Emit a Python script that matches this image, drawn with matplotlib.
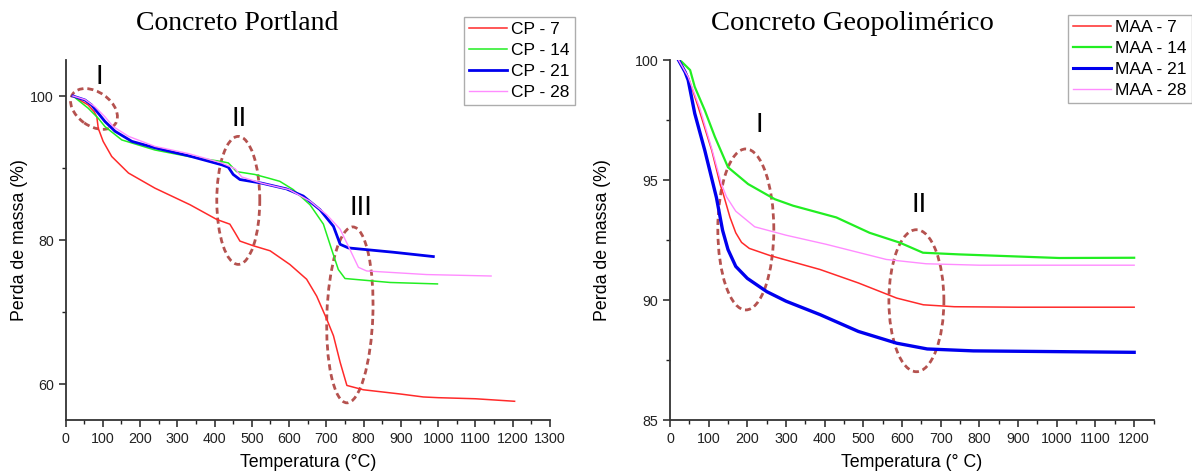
import matplotlib
matplotlib.use('Agg')
import matplotlib.pyplot as plt
from matplotlib.patches import Ellipse
from matplotlib.transforms import ScaledTranslation
from matplotlib.ticker import MultipleLocator

plt.rcParams['font.family'] = 'Liberation Sans'

# --- Concreto Portland (TGA curves) ---
cp7_t = [20, 61, 77, 84, 88, 101, 124, 169, 240, 334, 406, 441, 455, 468, 504, 549,
         602, 647, 674, 701, 719, 737, 755, 799, 900, 960, 1000, 1100, 1205]
cp7_v = [100, 98.75, 97.8, 97.1, 95.5, 93.7, 91.6, 89.3, 87.2, 84.9, 82.85, 82.2, 81.0,
         79.85, 79.2, 78.5, 76.6, 74.55, 72.2, 69.0, 66.7, 63.0, 59.8, 59.2, 58.6, 58.2,
         58.1, 57.95, 57.6]
cp14_t = [20, 61, 88, 106, 151, 240, 330, 419, 437, 459, 508, 544, 575, 611, 656, 692,
          714, 732, 750, 871, 998]
cp14_v = [100, 98.3, 96.9, 95.75, 93.9, 92.5, 91.6, 90.9, 90.7, 89.5, 89.1, 88.6, 88.15,
          87.0, 84.9, 82.2, 78.7, 75.9, 74.65, 74.1, 73.9]
cp21_t = [20, 52, 70, 88, 106, 133, 178, 240, 330, 419, 437, 450, 468, 526, 593, 638,
          683, 719, 737, 759, 880, 987]
cp21_v = [100, 99.45, 98.75, 97.6, 96.45, 95.1, 93.7, 92.8, 91.7, 90.45, 90.1, 89.1, 88.4,
          87.9, 87.1, 86.1, 84.2, 81.9, 79.4, 78.9, 78.3, 77.7]
cp28_t = [20, 52, 79, 106, 128, 169, 240, 330, 419, 455, 473, 526, 600, 656, 701, 737,
          763, 786, 808, 969, 1142]
cp28_v = [100, 99.5, 98.5, 97.1, 95.75, 94.4, 93.0, 92.0, 90.7, 89.9, 88.75, 87.9, 87.0,
          85.4, 83.5, 81.5, 78.7, 76.2, 75.7, 75.2, 75.0]

# --- Concreto Geopolimerico (TGA curves) ---
maa7_t = [22, 47, 73, 108, 130, 138, 155, 170, 185, 205, 259, 388, 487, 586, 655, 735,
          900, 1200]
maa7_v = [100, 99.3, 98.04, 96.23, 94.8, 94.4, 93.45, 92.8, 92.4, 92.15, 91.85, 91.27,
          90.71, 90.08, 89.8, 89.72, 89.7, 89.7]
maa14_t = [22, 30, 52, 64, 90, 116, 150, 202, 271, 318, 430, 516, 594, 654, 748, 1006, 1200]
maa14_v = [100, 99.93, 99.58, 98.88, 97.9, 96.8, 95.53, 94.83, 94.2, 93.93, 93.44, 92.8,
           92.39, 91.97, 91.9, 91.75, 91.76]
maa21_t = [22, 39, 47, 64, 90, 120, 136, 150, 170, 200, 250, 300, 388, 487, 586, 665,
           784, 1200]
maa21_v = [100, 99.5, 99.16, 97.77, 96.23, 94.27, 92.9, 92.1, 91.4, 90.9, 90.35, 89.95,
           89.39, 88.69, 88.2, 87.96, 87.88, 87.82]
maa28_t = [22, 47, 77, 108, 133, 146, 170, 219, 300, 404, 559, 662, 800, 1200]
maa28_v = [100, 99.3, 98.0, 96.3, 94.83, 94.3, 93.7, 93.05, 92.7, 92.32, 91.69, 91.51,
           91.45, 91.45]

cp_labels = ['CP - 7', 'CP - 14', 'CP - 21', 'CP - 28']
maa_labels = ['MAA - 7', 'MAA - 14', 'MAA - 21', 'MAA - 28']
colors = ['#ff2a2a', '#22ee22', '#0000ee', '#ff8cff']

# stage markers: (T, value, label) and circled regions (T, value, w px, h px, angle)
cp_stages = [(90, 102.6, 'I'), (467, 96.8, 'II'), (794, 84.5, 'III')]
cp_rings = [(76.5, 98.2, 52, 34, -35), (463.6, 85.5, 128, 43, 90), (763, 69.6, 176, 46, 88)]
maa_stages = [(230, 97.3, 'I'), (644, 93.96, 'II')]
maa_rings = [(196, 92.94, 161, 56, 90), (637, 89.97, 142, 55, 90)]

fig = plt.figure(figsize=(11.92, 4.75), dpi=100)
ax1 = fig.add_axes([65.5 / 1192, 55 / 475, 484.5 / 1192, 360 / 475])
ax2 = fig.add_axes([670 / 1192, 55 / 475, 483.5 / 1192, 360 / 475])


def style(ax, xlabel, ylab_x):
    for s in ['top', 'right']:
        ax.spines[s].set_visible(False)
    for s in ['left', 'bottom']:
        ax.spines[s].set_linewidth(1.3)
        ax.spines[s].set_color('#333333')
    ax.xaxis.set_major_locator(MultipleLocator(100))
    ax.xaxis.set_minor_locator(MultipleLocator(50))
    ax.tick_params(which='major', length=5, width=1.1, labelsize=10.3, colors='#222222')
    ax.tick_params(which='minor', length=3, width=1.0, colors='#222222')
    ax.set_xlabel(xlabel, fontsize=12.8, labelpad=6)
    ax.set_ylabel('Perda de massa (%)', fontsize=12.8)
    ax.yaxis.set_label_coords(ylab_x, 0.5)


def ring(ax, t, v, w, h, ang):
    tr = fig.dpi_scale_trans + ScaledTranslation(t, v, ax.transData)
    ax.add_patch(Ellipse((0, 0), w / 100, h / 100, angle=ang, transform=tr, fill=False,
                         ec='#b5524f', lw=2.0, ls=(0, (2.2, 1.4)), clip_on=False))


# left panel
ax1.plot(cp7_t, cp7_v, color=colors[0], lw=1.1, label=cp_labels[0])
ax1.plot(cp14_t, cp14_v, color=colors[1], lw=1.1, label=cp_labels[1])
ax1.plot(cp21_t, cp21_v, color=colors[2], lw=2.0, label=cp_labels[2])
ax1.plot(cp28_t, cp28_v, color=colors[3], lw=1.0, label=cp_labels[3])
ax1.set_xlim(0, 1300)
ax1.set_ylim(55, 105)
ax1.yaxis.set_major_locator(MultipleLocator(20))
ax1.yaxis.set_minor_locator(MultipleLocator(10))
style(ax1, 'Temperatura (°C)', -0.077)
for t, v, s in cp_stages:
    ax1.text(t, v, s, ha='center', va='center', fontsize=20)
for r in cp_rings:
    ring(ax1, *r)

# right panel
ax2.plot(maa7_t, maa7_v, color=colors[0], lw=1.1, label=maa_labels[0])
ax2.plot(maa14_t, maa14_v, color=colors[1], lw=1.6, label=maa_labels[1])
ax2.plot(maa21_t, maa21_v, color=colors[2], lw=2.4, label=maa_labels[2])
ax2.plot(maa28_t, maa28_v, color=colors[3], lw=1.0, label=maa_labels[3])
ax2.set_xlim(0, 1250)
ax2.set_ylim(85, 100)
ax2.yaxis.set_major_locator(MultipleLocator(5))
ax2.yaxis.set_minor_locator(MultipleLocator(2.5))
style(ax2, 'Temperatura (° C)', -0.122)
for t, v, s in maa_stages:
    ax2.text(t, v, s, ha='center', va='center', fontsize=20)
for r in maa_rings:
    ring(ax2, *r)

fig.text(237 / 1192, 1 - 23 / 475, 'Concreto Portland', family='Liberation Serif',
         fontsize=20, ha='center', va='center')
fig.text(852 / 1192, 1 - 23 / 475, 'Concreto Geopolimérico', family='Liberation Serif',
         fontsize=20.5, ha='center', va='center')

for ax, x0, y0 in [(ax1, 464, 17), (ax2, 1068, 15)]:
    leg = ax.legend(loc='upper left', bbox_to_anchor=(x0 / 1192, 1 - y0 / 475),
                    bbox_transform=fig.transFigure, fontsize=12.5, frameon=True,
                    fancybox=False, edgecolor='#999999', borderpad=0.3,
                    labelspacing=0.33, handlelength=2.15, handletextpad=0.25,
                    borderaxespad=0)
    leg.get_frame().set_linewidth(1.0)
    for h in leg.get_lines():
        h.set_linewidth(min(h.get_linewidth(), 2.2))

fig.savefig('out.png', dpi=100)
